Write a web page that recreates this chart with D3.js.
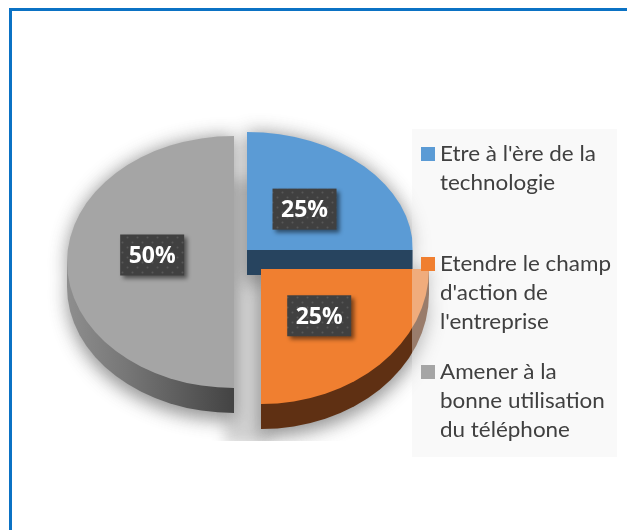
<!DOCTYPE html>
<html>
<head>
<meta charset="utf-8">
<style>
  html, body { margin: 0; padding: 0; background: #fff; }
  svg { display: block; }
</style>
</head>
<body>
<svg></svg>
<script src="https://d3js.org/d3.v7.min.js"></script>
<script>
const categories = ["Etre à l'ère de la technologie", "Etendre le champ d'action de l'entreprise", "Amener à la bonne utilisation du téléphone"];
const values = [25, 25, 50];
const labels = ["25%", "25%", "50%"];
const legendLines = [
  ["Etre à l'ère de la", "technologie"],
  ["Etendre le champ", "d'action de", "l'entreprise"],
  ["Amener à la", "bonne utilisation", "du téléphone"]
];
const topColors = ["#5b9bd5", "#f07f30", "#a5a5a5"];
const sideColors = ["#27445f", "#5f3013", "url(#graySide)"];

const width = 627;
const height = 530;
const depth = 25;
// each slice sits in its own exploded spot, the perspective makes the radii differ
const sliceLayout = [
  {cx: 247, cy: 250, rx: 166, ry: 118, nudge: 0},
  {cx: 261, cy: 269, rx: 168, ry: 135, nudge: 0},
  {cx: 234, cy: 262, rx: 167, ry: 126, nudge: -7}
];
const legendTop = [161, 271, 379];
const lineStep = 29.2;
const unit = 100;

const svg = d3.select("svg").attr("width", width).attr("height", height);
const defs = svg.append("defs");

const blur = defs.append("filter").attr("id", "pieShadow")
  .attr("x", "-30%").attr("y", "-30%").attr("width", "160%").attr("height", "160%");
blur.append("feGaussianBlur").attr("stdDeviation", 9);

const gapBlur = defs.append("filter").attr("id", "gapShadow")
  .attr("x", "-50%").attr("y", "-30%").attr("width", "200%").attr("height", "160%");
gapBlur.append("feGaussianBlur").attr("stdDeviation", 7);

const boxBlur = defs.append("filter").attr("id", "boxShadow")
  .attr("x", "-30%").attr("y", "-30%").attr("width", "160%").attr("height", "160%");
boxBlur.append("feGaussianBlur").attr("stdDeviation", 2);

defs.append("clipPath").attr("id", "shadowClip")
  .append("rect").attr("width", width).attr("height", 441);

const grad = defs.append("linearGradient").attr("id", "graySide");
grad.append("stop").attr("offset", "0%").attr("stop-color", "#8e8e8e");
grad.append("stop").attr("offset", "35%").attr("stop-color", "#777");
grad.append("stop").attr("offset", "100%").attr("stop-color", "#434343");

const dots = defs.append("pattern").attr("id", "boxDots")
  .attr("patternUnits", "userSpaceOnUse").attr("width", 10).attr("height", 10);
dots.append("rect").attr("width", 10).attr("height", 10).attr("fill", "#404040");
dots.append("circle").attr("cx", 2.5).attr("cy", 2.5).attr("r", 1).attr("fill", "#575757");
dots.append("circle").attr("cx", 7.5).attr("cy", 7.5).attr("r", 1).attr("fill", "#575757");

// frame, only top and left edges stay inside the photo
svg.append("path")
  .attr("d", d3.line()([[10.5, height], [10.5, 9.5], [width, 9.5]]))
  .attr("fill", "none").attr("stroke", "#0b72c4").attr("stroke-width", 3);

const pieData = d3.pie().sort(null).value(d => d)(values);
const arc = d3.arc().innerRadius(0).outerRadius(unit);
const labelArc = d3.arc().innerRadius(0).outerRadius(unit * 0.98);

const place = (s, dy) => `translate(${s.cx},${s.cy + dy}) scale(${s.rx / unit},${s.ry / unit})`;

// soft shadow under the whole pie
const shadowClip = svg.append("g").attr("clip-path", "url(#shadowClip)");
const shadow = shadowClip.append("g").attr("filter", "url(#pieShadow)").attr("opacity", 0.62);
pieData.forEach((d, i) => {
  shadow.append("path").attr("d", arc(d))
    .attr("transform", place(sliceLayout[i], depth + 8))
    .attr("fill", "#555");
  shadow.append("path").attr("d", arc(d))
    .attr("transform", place(sliceLayout[i], 0))
    .attr("fill", "#555");
});
// the cut between the slices is shaded too
shadowClip.append("g").attr("filter", "url(#gapShadow)").attr("opacity", 0.26)
  .append("rect")
  .attr("x", 225).attr("y", 180).attr("width", 45).attr("height", 265)
  .attr("fill", "#555");

// gray first, then blue and orange on top
[2, 0, 1].forEach(i => {
  const d = pieData[i];
  const s = sliceLayout[i];
  const g = svg.append("g");
  g.append("path").attr("d", arc(d))
    .attr("transform", place(s, depth))
    .attr("fill", sideColors[i]);
  const left = d.startAngle >= Math.PI ? s.cx - s.rx : s.cx;
  g.append("rect")
    .attr("x", left).attr("y", s.cy)
    .attr("width", s.rx).attr("height", depth)
    .attr("fill", sideColors[i]);
  g.append("path").attr("d", arc(d))
    .attr("transform", place(s, 0))
    .attr("fill", topColors[i]);
});

// legend box is translucent and lies over the pie
svg.append("rect")
  .attr("x", 412).attr("y", 129).attr("width", 205).attr("height", 328)
  .attr("fill", "#f0f0f0").attr("fill-opacity", 0.4);

const legend = svg.append("g").style("font-family", "Lato, 'Open Sans', sans-serif");
legendLines.forEach((lines, i) => {
  legend.append("rect")
    .attr("x", 421).attr("y", legendTop[i] - 14)
    .attr("width", 14).attr("height", 14)
    .attr("fill", topColors[i]);
  lines.forEach((t, k) => {
    // the picture was stretched sideways, so the letters are too
    legend.append("text")
      .attr("transform", `translate(440,${legendTop[i] + k * lineStep}) scale(1.095,1)`)
      .attr("font-size", 20.5).attr("fill", "#404040")
      .text(t);
  });
});

// data labels
const boxW = 64;
const boxH = 41;
pieData.forEach((d, i) => {
  const s = sliceLayout[i];
  const c = labelArc.centroid(d);
  const x = s.cx + c[0] * s.rx / unit;
  const y = s.cy + c[1] * s.ry / unit + s.nudge;
  svg.append("rect")
    .attr("x", x - boxW / 2 + 3).attr("y", y - boxH / 2 + 3)
    .attr("width", boxW).attr("height", boxH)
    .attr("fill", "#000").attr("opacity", 0.5)
    .attr("filter", "url(#boxShadow)");
  svg.append("rect")
    .attr("x", x - boxW / 2).attr("y", y - boxH / 2)
    .attr("width", boxW).attr("height", boxH)
    .attr("fill", "url(#boxDots)");
  svg.append("text")
    .attr("x", x).attr("y", y + 8)
    .attr("text-anchor", "middle")
    .style("font-family", "'Open Sans', Lato, sans-serif")
    .attr("font-size", 23).attr("font-weight", 700).attr("fill", "#fff")
    .text(labels[i]);
});
</script>
</body>
</html>
